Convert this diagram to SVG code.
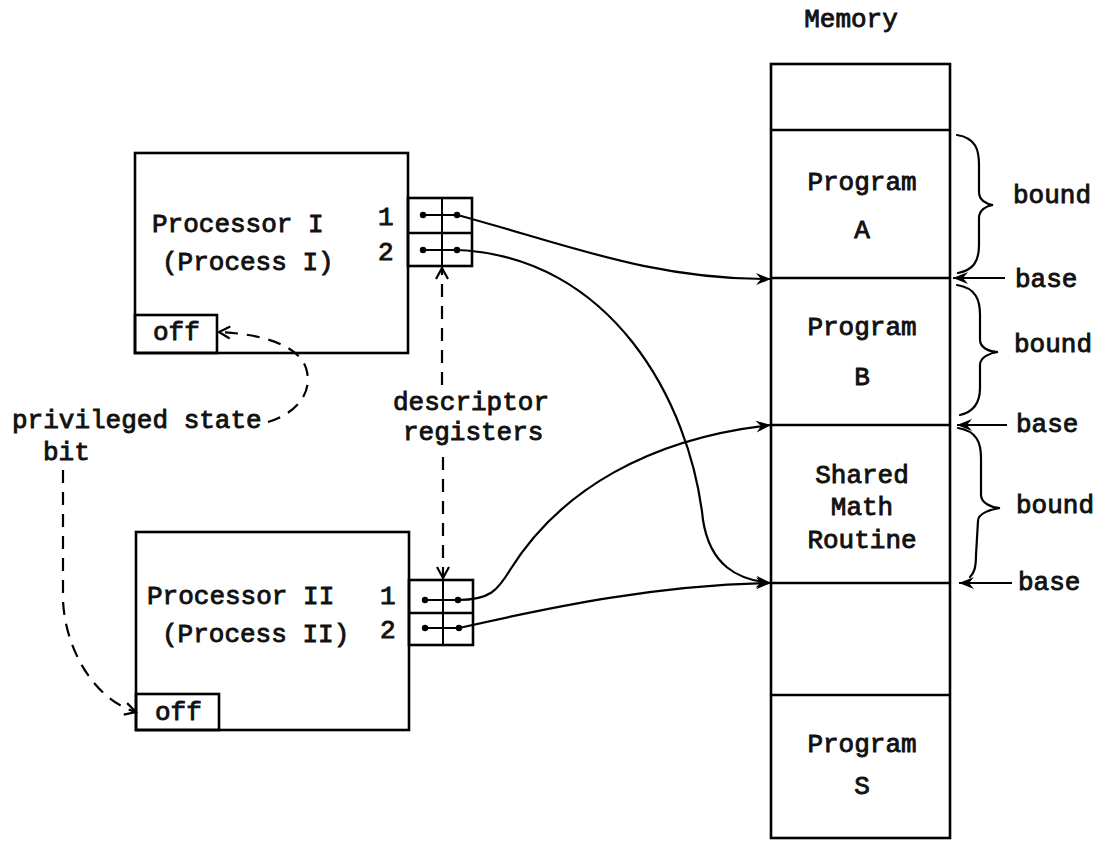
<svg xmlns="http://www.w3.org/2000/svg" width="1101" height="841" viewBox="0 0 1101 841">
  <defs>
    <style>
      .box { fill: none; stroke: #000; stroke-width: 2.6; stroke-linejoin: miter; }
      .thin { fill: none; stroke: #000; stroke-width: 2; }
      .link { fill: none; stroke: #000; stroke-width: 2.2; }
      .dash { fill: none; stroke: #000; stroke-width: 2.2; stroke-dasharray: 13 9; }
      .brace { fill: none; stroke: #000; stroke-width: 2.2; stroke-linecap: round; }
      .dot { fill: #000; }
      text { font-family: "Liberation Mono", "Courier New", monospace; font-size: 26px; fill: #111; stroke: #111; stroke-width: 0.9; }
      .mid { text-anchor: middle; }
    </style>
    <marker id="head" markerUnits="userSpaceOnUse" markerWidth="18" markerHeight="14" refX="16" refY="7" orient="auto">
      <path d="M1,1 L16,7 L1,13 L6,7 Z" fill="#000"/>
    </marker>
    <marker id="vee" markerUnits="userSpaceOnUse" markerWidth="16" markerHeight="16" refX="13" refY="8" orient="auto">
      <path d="M2,2 L13,8 L2,14" fill="none" stroke="#000" stroke-width="2.2"/>
    </marker>
  </defs>

  <!-- Memory column -->
  <g id="memory">
    <text x="851" y="27" class="mid">Memory</text>
    <rect x="771" y="64" width="179" height="774" class="box"/>
    <line x1="771" y1="130" x2="950" y2="130" class="box"/>
    <line x1="771" y1="278" x2="950" y2="278" class="box"/>
    <line x1="771" y1="425" x2="950" y2="425" class="box"/>
    <line x1="771" y1="583" x2="950" y2="583" class="box"/>
    <line x1="771" y1="695" x2="950" y2="695" class="box"/>
    <text x="862" y="190" class="mid">Program</text>
    <text x="862" y="238" class="mid">A</text>
    <text x="862" y="335" class="mid">Program</text>
    <text x="862" y="385" class="mid">B</text>
    <text x="862" y="483" class="mid">Shared</text>
    <text x="862" y="515" class="mid">Math</text>
    <text x="862" y="548" class="mid">Routine</text>
    <text x="862" y="752" class="mid">Program</text>
    <text x="862" y="794" class="mid">S</text>
  </g>

  <!-- Bound braces and base pointers -->
  <g id="limits">
    <path class="brace" d="M957,135 C 976,138 979,150 979,165 L979,192 C 979,200 986,204 993,205 C 986,206 979,210 979,218 L979,245 C 979,262 973,270 958,273"/>
    <path class="brace" d="M957,285 C 976,288 980,300 980,315 L980,340 C 980,348 990,352 998,352 C 990,353 980,357 980,365 L980,388 C 980,404 973,412 960,415"/>
    <path class="brace" d="M958,428 C 977,431 981,443 981,458 L981,495 C 981,503 992,508 1000,508 C 992,509 978,513 978,521 L976,555 C 976,568 974,573 970,577"/>
    <line x1="1005" y1="278" x2="953" y2="278" class="link" marker-end="url(#head)"/>
    <line x1="1007" y1="425" x2="957" y2="425" class="link" marker-end="url(#head)"/>
    <line x1="1012" y1="583" x2="959" y2="583" class="link" marker-end="url(#head)"/>
    <text x="1013" y="203">bound</text>
    <text x="1015" y="287">base</text>
    <text x="1014" y="352">bound</text>
    <text x="1016" y="432">base</text>
    <text x="1016" y="513">bound</text>
    <text x="1018" y="590">base</text>
  </g>

  <!-- Processor I -->
  <g id="processor-1">
    <rect x="135" y="153" width="273" height="200" class="box"/>
    <rect x="135" y="315" width="82" height="38" class="box"/>
    <text x="153" y="340">off</text>
    <text x="152" y="232">Processor I</text>
    <text x="162" y="270">(Process I)</text>
    <text x="378" y="225">1</text>
    <text x="378" y="260">2</text>
    <rect x="408" y="198" width="64" height="68" class="box"/>
    <line x1="408" y1="233" x2="472" y2="233" class="box"/>
    <line x1="442" y1="198" x2="442" y2="266" class="thin"/>
    <line x1="423" y1="215" x2="457" y2="215" class="thin"/>
    <line x1="423" y1="250" x2="457" y2="250" class="thin"/>
    <circle cx="423" cy="215" r="3.2" class="dot"/>
    <circle cx="457" cy="215" r="3.2" class="dot"/>
    <circle cx="423" cy="250" r="3.2" class="dot"/>
    <circle cx="457" cy="250" r="3.2" class="dot"/>
  </g>

  <!-- Processor II -->
  <g id="processor-2">
    <rect x="136" y="532" width="273" height="198" class="box"/>
    <rect x="136" y="694" width="83" height="36" class="box"/>
    <text x="155" y="720">off</text>
    <text x="147" y="604">Processor II</text>
    <text x="162" y="642">(Process II)</text>
    <text x="380" y="604">1</text>
    <text x="380" y="638">2</text>
    <rect x="409" y="580" width="64" height="65" class="box"/>
    <line x1="409" y1="613" x2="473" y2="613" class="box"/>
    <line x1="443" y1="580" x2="443" y2="645" class="thin"/>
    <line x1="425" y1="600" x2="458" y2="600" class="thin"/>
    <line x1="425" y1="628" x2="459" y2="628" class="thin"/>
    <circle cx="425" cy="600" r="3.2" class="dot"/>
    <circle cx="458" cy="600" r="3.2" class="dot"/>
    <circle cx="425" cy="628" r="3.2" class="dot"/>
    <circle cx="459" cy="628" r="3.2" class="dot"/>
  </g>

  <!-- Free labels -->
  <g id="labels">
    <text x="12" y="428">privileged state</text>
    <text x="43" y="460">bit</text>
    <text x="393" y="410">descriptor</text>
    <text x="403" y="440">registers</text>
  </g>

  <!-- Connectors -->
  <g id="connectors">
    <path class="link" d="M457,215 C 560,242 650,280 771,279" marker-end="url(#head)"/>
    <path class="link" d="M457,250 C 610,256 690,400 703,520 C 710,565 737,580 771,583" marker-end="url(#head)"/>
    <path class="link" d="M458,600 C 490,600 498,590 510,570 C 560,490 650,438 771,425" marker-end="url(#head)"/>
    <path class="link" d="M459,628 C 560,605 660,585 771,583" marker-end="url(#head)"/>
    <path class="dash" d="M442,385 L442,268" marker-end="url(#vee)"/>
    <path class="dash" d="M443,457 L443,578" marker-end="url(#vee)"/>
    <path class="dash" d="M268,422 C 300,412 313,390 306,368 C 298,345 262,334 219,332" marker-end="url(#vee)"/>
    <path class="dash" d="M63,470 L63,600 C 65,650 95,700 136,712" marker-end="url(#vee)"/>
  </g>
</svg>
